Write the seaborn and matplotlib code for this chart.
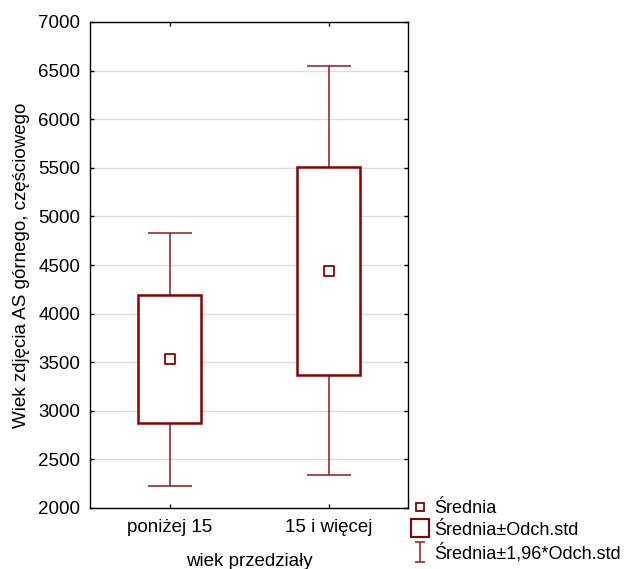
import matplotlib
matplotlib.use('Agg')
import matplotlib.pyplot as plt
import seaborn as sns
import pandas as pd
from matplotlib.lines import Line2D
from matplotlib.path import Path

# --- Data ---
categories = ['poniżej 15', '15 i więcej']
means = [3530, 4442]
sd_low = [2870, 3373]      # mean - SD
sd_high = [4190, 5511]     # mean + SD
ci_low = [2230, 2340]      # mean - 1.96*SD
ci_high = [4830, 6552]     # mean + 1.96*SD

DARK_RED = '#8B0000'
WHISKER_RED = '#9E2A2A'

sns.set_theme(style="ticks")
plt.rcParams['font.family'] = ['Liberation Sans', 'DejaVu Sans']
plt.rcParams['text.color'] = 'black'
plt.rcParams['axes.labelcolor'] = 'black'

fig = plt.figure(figsize=(6.29, 5.69), dpi=100)
ax = fig.add_axes([90 / 629, 1 - 508 / 569, 318 / 629, 486 / 569])

df = pd.DataFrame({'grupa': categories, 'srednia': means})
xpos = list(range(len(categories)))

# whiskers: mean +/- 1.96*SD
ax.errorbar(xpos, means,
            yerr=[[m - lo for m, lo in zip(means, ci_low)],
                  [hi - m for m, hi in zip(means, ci_high)]],
            fmt='none', ecolor=WHISKER_RED, elinewidth=1.2,
            capsize=16, capthick=1.2, zorder=2)

# boxes: mean +/- SD
ax.bar(xpos, [h - l for h, l in zip(sd_high, sd_low)], bottom=sd_low,
       width=0.39, facecolor='white', edgecolor=DARK_RED, linewidth=1.8,
       zorder=3)

# mean markers
sns.scatterplot(data=df, x='grupa', y='srednia', marker='s', s=50,
                facecolor='white', edgecolor=DARK_RED, linewidth=1.3,
                ax=ax, zorder=4, legend=False)

ax.set_xlim(-0.5, 1.5)
ax.set_ylim(2000, 7000)
ax.set_yticks(range(2000, 7001, 500))
ax.set_xticks(xpos)
ax.set_xticklabels(categories)
ax.yaxis.grid(True, color='#dddddd', linewidth=1)
ax.set_axisbelow(True)
ax.tick_params(direction='in', length=3, width=1, top=True, right=True,
               labelsize=13.5, colors='black', labelcolor='black')
ax.tick_params(axis='y', pad=7)
ax.tick_params(axis='x', pad=8)
for sp in ax.spines.values():
    sp.set_color('black')
    sp.set_linewidth(1)

ax.set_xlabel('wiek przedziały', fontsize=13.5, labelpad=12)
ax.set_ylabel('Wiek zdjęcia AS górnego, częściowego', fontsize=13.5, labelpad=6)

# legend
cap_path = Path([(-0.5, -1), (0.5, -1), (0, -1), (0, 1), (-0.5, 1), (0.5, 1)],
                [Path.MOVETO, Path.LINETO, Path.MOVETO, Path.LINETO,
                 Path.MOVETO, Path.LINETO])
handles = [
    Line2D([], [], linestyle='none', marker='s', markersize=6,
           markerfacecolor='white', markeredgecolor=DARK_RED, markeredgewidth=1.3),
    Line2D([], [], linestyle='none', marker='s', markersize=13,
           markerfacecolor='white', markeredgecolor=DARK_RED, markeredgewidth=1.5),
    Line2D([], [], linestyle='none', marker=cap_path, markersize=15,
           markerfacecolor='none', markeredgecolor=WHISKER_RED, markeredgewidth=1.2),
]
labels = ['Średnia', 'Średnia±Odch.std', 'Średnia±1,96*Odch.std']
fig.legend(handles, labels, loc='upper left',
           bbox_to_anchor=(411 / 629, 1 - 500 / 569),
           frameon=False, fontsize=13, handlelength=1.0, handletextpad=0.3,
           labelspacing=0.25, borderaxespad=0, borderpad=0)

fig.savefig('out.png', dpi=100, facecolor='white')
